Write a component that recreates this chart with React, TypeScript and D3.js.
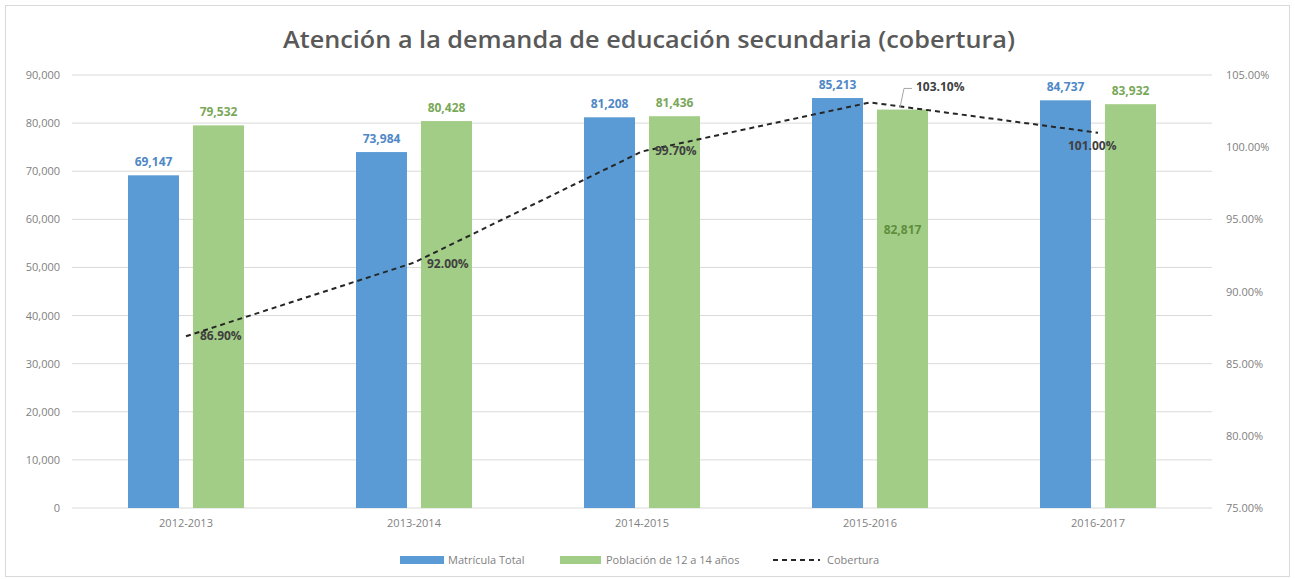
import React from "react";
import * as d3 from "d3";

const categories = ["2012-2013", "2013-2014", "2014-2015", "2015-2016", "2016-2017"];
const matriculaTotal = [69147, 73984, 81208, 85213, 84737];
const poblacion12a14 = [79532, 80428, 81436, 82817, 83932];
const cobertura = [0.869, 0.92, 0.997, 1.031, 1.01];
const leftTicks = [0, 10000, 20000, 30000, 40000, 50000, 60000, 70000, 80000, 90000];
const rightTicks = [0.75, 0.8, 0.85, 0.9, 0.95, 1.0, 1.05];
const seriesNames = ["Matrícula Total", "Población de 12 a 14 años", "Cobertura"];

const W = 1295;
const H = 579;
const FONT = "Open Sans, Noto Sans, sans-serif";
const BLUE = "#5b9bd5";
const GREEN = "#a2cd86";
const BLUE_LBL = "#4f88c6";
const GREEN_LBL = "#7aa85a";
const AXIS_TXT = "#7f7f7f";

export default function App() {
  const x0 = d3.scaleBand<string>().domain(categories).range([72, 1212]).padding(0);
  const x1 = d3.scaleBand<string>().domain(["a", "b"]).range([0, 116]).paddingInner(0.215);
  const yL = d3.scaleLinear().domain([0, 90000]).range([508, 75]);
  const yR = d3.scaleLinear().domain([0.75, 1.05]).range([508, 75]);
  const fmtN = d3.format(",");
  const fmtP = d3.format(".2%");
  const cx = (c: string) => (x0(c) as number) + x0.bandwidth() / 2;
  const line = d3
    .line<number>()
    .x((_, i) => cx(categories[i]))
    .y((d) => yR(d));

  // label offsets for the coverage labels (relative to point)
  const pctOffsets = [
    { dx: 14, dy: 4, anchor: "start" },
    { dx: 13, dy: 5, anchor: "start" },
    { dx: 13, dy: 4, anchor: "start" },
    { dx: 46, dy: -11, anchor: "start" },
    { dx: -30, dy: 17, anchor: "start" },
  ];

  return (
    <svg width={W} height={H} style={{ position: "absolute", left: 0, top: 0, background: "#fff" }}>
      <rect x={5.5} y={5.5} width={1284} height={571} fill="#fff" stroke="#d9d9d9" />
      <text
        x={649}
        y={48}
        textAnchor="middle"
        fontFamily={FONT}
        fontSize={23}
        fontWeight={600}
        fill="#595959"
        textLength={732}
        lengthAdjust="spacingAndGlyphs"
      >
        Atención a la demanda de educación secundaria (cobertura)
      </text>

      {leftTicks.map((t) => (
        <g key={"l" + t}>
          <line x1={72} x2={1212} y1={yL(t)} y2={yL(t)} stroke="#d9d9d9" strokeWidth={1} />
          <text x={60} y={yL(t) + 4} textAnchor="end" fontFamily={FONT} fontSize={11} fill={AXIS_TXT}>
            {fmtN(t)}
          </text>
        </g>
      ))}
      {rightTicks.map((t) => (
        <text key={"r" + t} x={1226} y={yR(t) + 4} textAnchor="start" fontFamily={FONT} fontSize={11} fill={AXIS_TXT}>
          {fmtP(t)}
        </text>
      ))}

      {categories.map((c, i) => {
        const bx = x0(c) as number;
        const gx = bx + (x0.bandwidth() - 116) / 2;
        const bA = gx + (x1("a") as number);
        const bB = gx + (x1("b") as number);
        const bw = x1.bandwidth();
        const greenInside = i === 3;
        return (
          <g key={c}>
            <rect x={bA} y={yL(matriculaTotal[i])} width={bw} height={508 - yL(matriculaTotal[i])} fill={BLUE} />
            <rect x={bB} y={yL(poblacion12a14[i])} width={bw} height={508 - yL(poblacion12a14[i])} fill={GREEN} />
            <text x={bA + bw / 2} y={yL(matriculaTotal[i]) - 9} textAnchor="middle" fontFamily={FONT} fontSize={12} fontWeight={700} fill={BLUE_LBL}>
              {fmtN(matriculaTotal[i])}
            </text>
            <text
              x={bB + bw / 2}
              y={greenInside ? yL(poblacion12a14[i]) + 124 : yL(poblacion12a14[i]) - 9}
              textAnchor="middle"
              fontFamily={FONT}
              fontSize={12}
              fontWeight={700}
              fill={greenInside ? "#5f8f3e" : GREEN_LBL}
            >
              {fmtN(poblacion12a14[i])}
            </text>
            <text x={cx(c)} y={527} textAnchor="middle" fontFamily={FONT} fontSize={11} fill={AXIS_TXT}>
              {c}
            </text>
          </g>
        );
      })}

      <path d={line(cobertura) as string} fill="none" stroke="#262626" strokeWidth={2} strokeDasharray="5,4" />
      <path
        d={`M${cx(categories[3]) + 30},${yR(cobertura[3]) + 5} L${cx(categories[3]) + 34},${yR(cobertura[3]) - 14} L${cx(categories[3]) + 42},${yR(cobertura[3]) - 14}`}
        fill="none"
        stroke="#a6a6a6"
        strokeWidth={1}
      />
      {cobertura.map((v, i) => (
        <text
          key={"p" + i}
          x={cx(categories[i]) + pctOffsets[i].dx}
          y={yR(v) + pctOffsets[i].dy}
          textAnchor={pctOffsets[i].anchor as any}
          fontFamily={FONT}
          fontSize={12}
          fontWeight={700}
          fill="#404040"
        >
          {fmtP(v)}
        </text>
      ))}

      {/* Legend */}
      <g fontFamily={FONT} fontSize={11} fill={AXIS_TXT}>
        <rect x={400} y={556} width={44} height={8} fill={BLUE} />
        <text x={448} y={564}>{seriesNames[0]}</text>
        <rect x={560} y={556} width={41} height={8} fill={GREEN} />
        <text x={606} y={564}>{seriesNames[1]}</text>
        <line x1={773} x2={820} y1={560} y2={560} stroke="#262626" strokeWidth={2} strokeDasharray="5,4" />
        <text x={827} y={564}>{seriesNames[2]}</text>
      </g>
    </svg>
  );
}
